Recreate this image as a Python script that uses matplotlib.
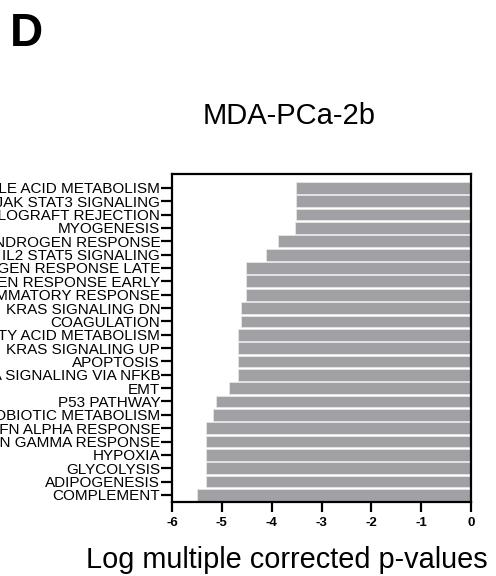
import matplotlib
matplotlib.use("Agg")
import matplotlib.pyplot as plt

plt.rcParams['font.family'] = ['Liberation Sans', 'DejaVu Sans']

# Categories listed top to bottom
categories = [
    "BILE ACID METABOLISM",
    "IL6 JAK STAT3 SIGNALING",
    "ALLOGRAFT REJECTION",
    "MYOGENESIS",
    "ANDROGEN RESPONSE",
    "IL2 STAT5 SIGNALING",
    "ESTROGEN RESPONSE LATE",
    "ESTROGEN RESPONSE EARLY",
    "INFLAMMATORY RESPONSE",
    "KRAS SIGNALING DN",
    "COAGULATION",
    "FATTY ACID METABOLISM",
    "KRAS SIGNALING UP",
    "APOPTOSIS",
    "TNFA SIGNALING VIA NFKB",
    "EMT",
    "P53 PATHWAY",
    "XENOBIOTIC METABOLISM",
    "IFN ALPHA RESPONSE",
    "IFN GAMMA RESPONSE",
    "HYPOXIA",
    "GLYCOLYSIS",
    "ADIPOGENESIS",
    "COMPLEMENT",
]
values = [
    -3.52, -3.52, -3.52, -3.54, -3.87, -4.12, -4.51, -4.51, -4.51,
    -4.62, -4.62, -4.68, -4.67, -4.67, -4.67, -4.86, -5.11, -5.18,
    -5.31, -5.31, -5.32, -5.32, -5.32, -5.49,
]
xticks = [-6, -5, -4, -3, -2, -1, 0]
title = "MDA-PCa-2b"
xlabel = "Log multiple corrected p-values"
panel = "D"

W, H = 496, 576
fig = plt.figure(figsize=(W / 100, H / 100), dpi=100)
ax = fig.add_axes([172 / W, 1 - 502 / H, (471 - 172) / W, (502 - 174) / H])

n = len(categories)
ypos = list(range(n - 1, -1, -1))
ax.barh(ypos, values, height=0.88, color="#a1a0a5", edgecolor="#e6e6e6",
        linewidth=0.6, zorder=2)

ax.set_xlim(-6, 0)
ax.set_ylim(-0.53, n - 1 + 1.04)
ax.set_yticks(ypos)
ax.set_yticklabels(categories, fontsize=11)
ax.set_xticks(xticks)
ax.set_xticklabels([str(t) for t in xticks], fontsize=9.5, fontweight="bold")

for s in ax.spines.values():
    s.set_linewidth(1.6)
    s.set_color("black")
ax.tick_params(axis="y", length=8, width=1.6, pad=0.5)
ax.tick_params(axis="x", length=7.5, width=1.6, pad=3.5)

fig.text(289 / W, 1 - 124 / H, title, ha="center", va="baseline", fontsize=21)
fig.text(287 / W, 1 - 568 / H, xlabel, ha="center", va="baseline", fontsize=20.8)
fig.text(10 / W, 1 - 46.5 / H, panel, ha="left", va="baseline", fontsize=33,
         fontweight="bold")

fig.savefig("out.png", dpi=100)
